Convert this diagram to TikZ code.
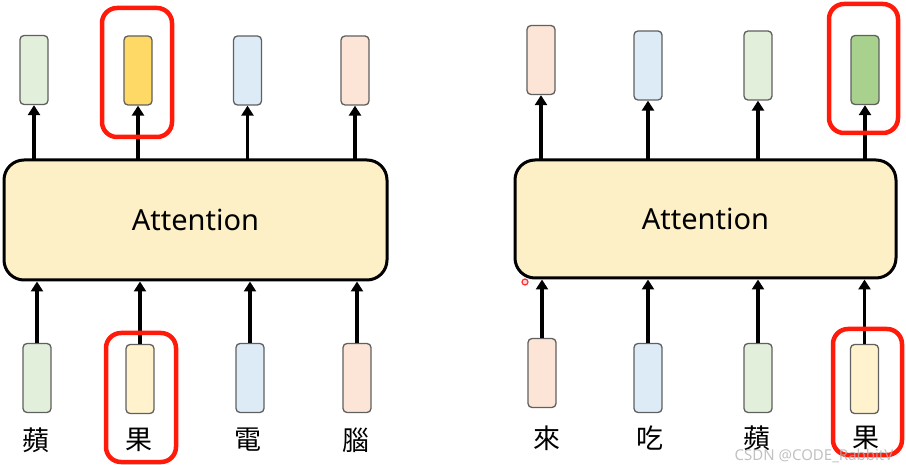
\documentclass[tikz,border=0pt]{standalone}
\usepackage{fontspec}
\setmainfont{Noto Sans}
\newfontfamily\cjk{Noto Sans CJK TC}
\usetikzlibrary{arrows.meta}
\definecolor{vgreen}{HTML}{E2EFDA}
\definecolor{vblue}{HTML}{DDEBF7}
\definecolor{vpeach}{HTML}{FCE4D6}
\definecolor{vyel}{HTML}{FFF2CC}
\definecolor{vgold}{HTML}{FFD966}
\definecolor{vdgreen}{HTML}{A9D18E}
\definecolor{attfill}{HTML}{FDF0C6}
\definecolor{hired}{HTML}{FF1A0A}
\definecolor{vborder}{HTML}{606060}
\tikzset{
  vec/.style={draw=vborder, line width=1.3pt, rounded corners=4pt, minimum width=28pt, minimum height=69pt, inner sep=0pt},
  attbox/.style={draw=black, line width=3pt, fill=attfill, rounded corners=20pt, inner sep=0pt, font=\fontsize{29}{34}\selectfont},
  arr/.style={line width=3.4pt, -{Triangle[width=12pt,length=10pt]}},
  hibox/.style={draw=hired, line width=4.5pt, rounded corners=15pt, inner sep=0pt},
  word/.style={font=\cjk\fontsize{27}{30}\selectfont, inner sep=0pt},
}
\begin{document}
\begin{tikzpicture}[x=1pt,y=-1pt]
\useasboundingbox (0,0) rectangle (906,465);
% ---------- left panel ----------
\node[attbox, minimum width=383pt, minimum height=120pt] (attL) at (195.5,220) {Attention};
% outputs
\node[vec, fill=vgreen] (oL1) at (34,70) {};
\node[vec, fill=vgold]  (oL2) at (138,70.5) {};
\node[vec, fill=vblue]  (oL3) at (247.5,70.5) {};
\node[vec, fill=vpeach] (oL4) at (355,70.5) {};
% inputs
\node[vec, fill=vgreen] (iL1) at (37,378) {};
\node[vec, fill=vyel]   (iL2) at (140,379) {};
\node[vec, fill=vblue]  (iL3) at (250,378) {};
\node[vec, fill=vpeach] (iL4) at (357,378) {};
% words
\node[word] (wL1) at (36,440) {蘋};
\node[word] (wL2) at (139,440) {果};
\node[word] (wL3) at (248,440) {電};
\node[word] (wL4) at (356,440) {腦};
% arrows
\foreach \i in {1,2,3,4}{
  \draw[arr] (oL\i |- attL.north) ++(0,1.5) -- (oL\i.south);
  \draw[arr] (iL\i.north) -- (iL\i |- attL.south);
}
% highlight
\node[hibox, minimum width=70pt, minimum height=129pt] (hL1) at (137,72.5) {};
\node[hibox, minimum width=70pt, minimum height=129pt] (hL2) at (141,397.5) {};
% ---------- right panel ----------
\node[attbox, minimum width=381pt, minimum height=118pt] (attR) at (705.5,219) {Attention};
\node[vec, fill=vpeach]  (oR1) at (541,60) {};
\node[vec, fill=vblue]   (oR2) at (648,65.5) {};
\node[vec, fill=vgreen]  (oR3) at (758,65.5) {};
\node[vec, fill=vdgreen] (oR4) at (865,70) {};
\node[vec, fill=vpeach] (iR1) at (542,373) {};
\node[vec, fill=vblue]  (iR2) at (648,378) {};
\node[vec, fill=vgreen] (iR3) at (758,378) {};
\node[vec, fill=vyel]   (iR4) at (864.5,379) {};
\node[word] (wR1) at (547,438) {來};
\node[word] (wR2) at (650,438) {吃};
\node[word] (wR3) at (757,438) {蘋};
\node[word] (wR4) at (866,438) {果};
\foreach \i in {1,2,3,4}{
  \draw[arr] (oR\i |- attR.north) ++(0,1.5) -- (oR\i.south);
  \draw[arr] (iR\i.north) -- (iR\i |- attR.south);
}
\node[hibox, minimum width=69pt, minimum height=129pt] (hR1) at (863.5,68.5) {};
\node[hibox, minimum width=69pt, minimum height=126pt] (hR2) at (867.5,392) {};
% pointer dot
\node[circle, draw=red!80, line width=1.2pt, fill=red!15, minimum size=6pt, inner sep=0pt] (dot) at (525,282) {};
% watermark
\node[font=\fontsize{15}{18}\selectfont, text=gray!60, opacity=0.8, inner sep=0pt] (wm) at (814,456) {CSDN @CODE\_RabbitV};
\end{tikzpicture}
\end{document}
